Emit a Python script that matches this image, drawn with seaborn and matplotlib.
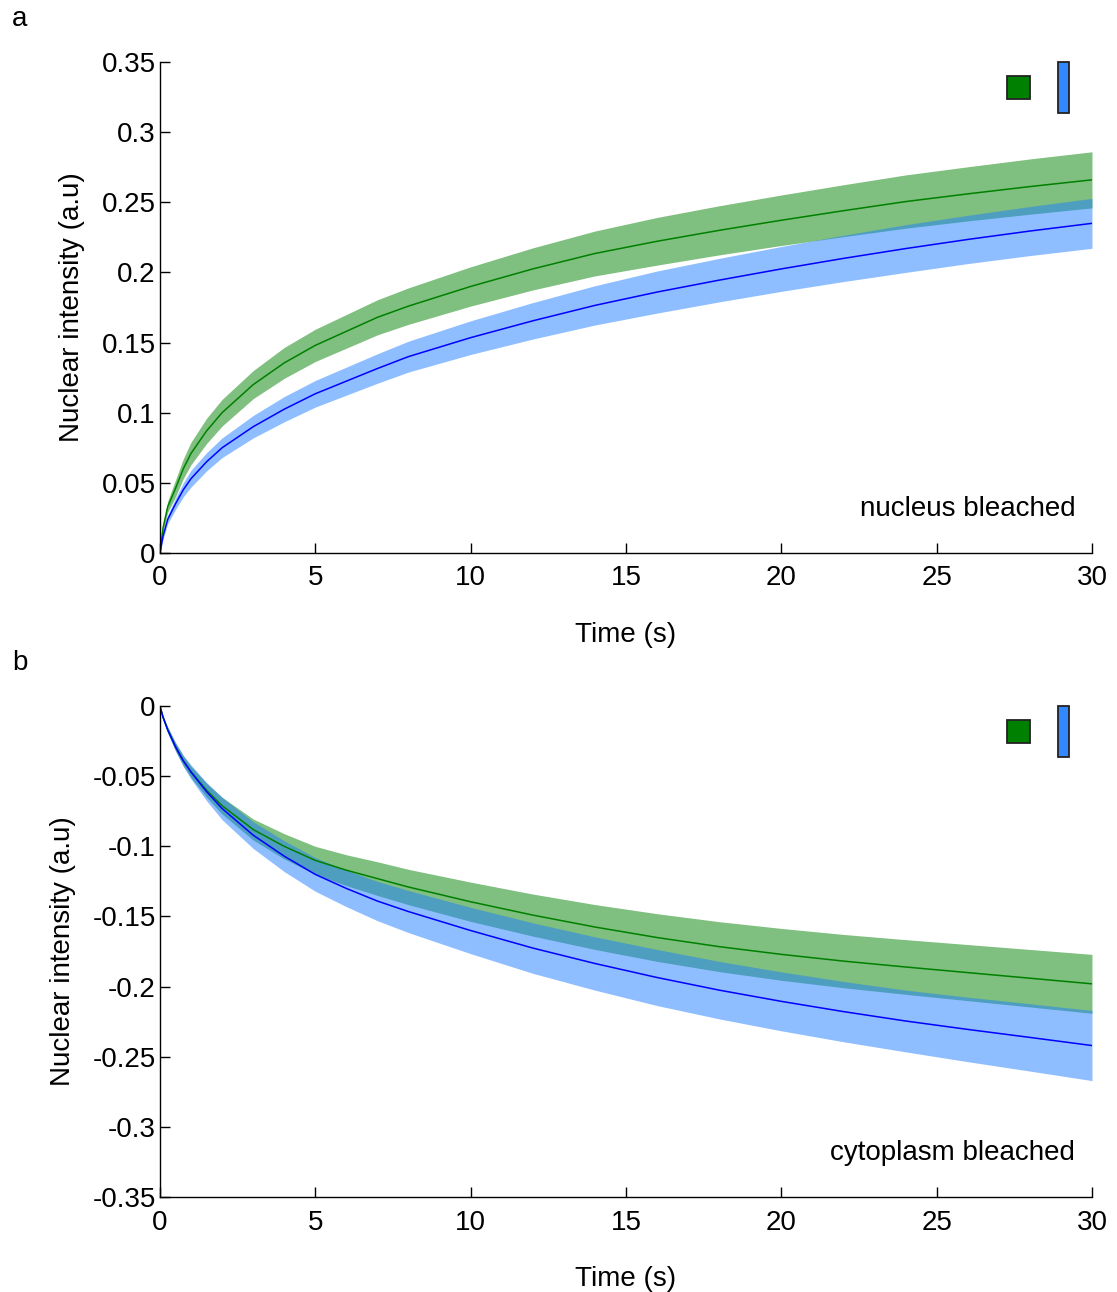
import numpy as np
import pandas as pd
import matplotlib
matplotlib.use("Agg")
import matplotlib.pyplot as plt
import seaborn as sns
from matplotlib.patches import Rectangle
from matplotlib.ticker import FuncFormatter

# tempo (s) comum a todas as curvas
time_s = [0, 0.1, 0.25, 0.5, 0.75, 1, 1.5, 2, 3, 4, 5, 6, 7, 8,
          10, 12, 14, 16, 18, 20, 22, 24, 26, 28, 30]

# painel a - nucleo fotobranqueado
nuc_green_mean = [0, 0.018, 0.033, 0.046, 0.060, 0.071, 0.087, 0.100, 0.120, 0.1355, 0.148, 0.158, 0.168, 0.176,
                  0.190, 0.2025, 0.2135, 0.2222, 0.2300, 0.2372, 0.2440, 0.2505, 0.2560, 0.2612, 0.266]
nuc_green_sd = [0, 0.0025, 0.004, 0.006, 0.007, 0.008, 0.009, 0.0095, 0.010, 0.011, 0.0115, 0.012, 0.0125, 0.013,
                0.014, 0.015, 0.016, 0.017, 0.0175, 0.018, 0.0185, 0.019, 0.0193, 0.0197, 0.020]
nuc_blue_mean = [0, 0.012, 0.024, 0.035, 0.045, 0.053, 0.065, 0.075, 0.090, 0.1025, 0.1135, 0.1225, 0.1315, 0.140,
                 0.1535, 0.1655, 0.1765, 0.186, 0.1945, 0.2025, 0.2100, 0.2170, 0.2235, 0.2295, 0.235]
nuc_blue_sd = [0, 0.002, 0.003, 0.004, 0.005, 0.006, 0.0065, 0.007, 0.008, 0.009, 0.0095, 0.010, 0.0105, 0.011,
               0.012, 0.013, 0.014, 0.015, 0.0155, 0.016, 0.0165, 0.017, 0.0172, 0.0175, 0.0178]

# painel b - citoplasma fotobranqueado
cyt_green_mean = [0, -0.008, -0.017, -0.029, -0.039, -0.047, -0.060, -0.071, -0.088, -0.100, -0.110, -0.117, -0.123,
                  -0.129, -0.1395, -0.149, -0.1575, -0.165, -0.1715, -0.177, -0.1818, -0.186, -0.190, -0.194, -0.198]
cyt_green_sd = [0, 0.001, 0.002, 0.003, 0.0035, 0.004, 0.005, 0.006, 0.0075, 0.009, 0.010, 0.011, 0.012, 0.0126,
                0.014, 0.015, 0.016, 0.017, 0.0178, 0.0185, 0.019, 0.0195, 0.020, 0.0205, 0.021]
cyt_blue_mean = [0, -0.008, -0.017, -0.029, -0.039, -0.047, -0.061, -0.073, -0.092, -0.107, -0.120, -0.130, -0.139,
                 -0.1465, -0.160, -0.1725, -0.1835, -0.1935, -0.2025, -0.2105, -0.2178, -0.2245, -0.2305, -0.2362, -0.242]
cyt_blue_sd = [0, 0.001, 0.002, 0.003, 0.004, 0.005, 0.0065, 0.008, 0.0095, 0.011, 0.012, 0.013, 0.014, 0.015,
               0.0165, 0.018, 0.019, 0.020, 0.0205, 0.021, 0.0215, 0.022, 0.023, 0.024, 0.025]

x_ticks = [0, 5, 10, 15, 20, 25, 30]
y_ticks_a = [0, 0.05, 0.1, 0.15, 0.2, 0.25, 0.3, 0.35]
y_ticks_b = [-0.35, -0.3, -0.25, -0.2, -0.15, -0.1, -0.05, 0]

sns.set_style("ticks")
plt.rcParams['font.family'] = ['Liberation Sans', 'DejaVu Sans']
plt.rcParams['font.size'] = 20
# tudo em preto, como no original
for k in ['text.color', 'axes.labelcolor', 'xtick.color', 'ytick.color', 'axes.edgecolor']:
    plt.rcParams[k] = 'black'

GREEN = '#008000'
BLUE_BAND = '#1f7fff'
BLUE_LINE = '#0000ff'

fig = plt.figure(figsize=(11.17, 12.92), dpi=100)
ax_a = fig.add_axes([0.1432, 0.572, 0.8344, 0.380])
ax_b = fig.add_axes([0.1432, 0.0735, 0.8344, 0.380])

paineis = [
    (ax_a, nuc_green_mean, nuc_green_sd, nuc_blue_mean, nuc_blue_sd, y_ticks_a, 'nucleus bleached'),
    (ax_b, cyt_green_mean, cyt_green_sd, cyt_blue_mean, cyt_blue_sd, y_ticks_b, 'cytoplasm bleached'),
]

for ax, gm, gs, bm, bs, yt, texto in paineis:
    df = pd.DataFrame({'t': time_s, 'gm': gm, 'gs': gs, 'bm': bm, 'bs': bs})
    ax.fill_between(df['t'], df['gm'] - df['gs'], df['gm'] + df['gs'], color=GREEN, alpha=0.5, lw=0)
    ax.fill_between(df['t'], df['bm'] - df['bs'], df['bm'] + df['bs'], color=BLUE_BAND, alpha=0.5, lw=0)
    sns.lineplot(data=df, x='t', y='gm', color=GREEN, lw=1.1, ax=ax)
    sns.lineplot(data=df, x='t', y='bm', color=BLUE_LINE, lw=1.1, ax=ax)

    ax.set_xlim(0, 30)
    ax.set_ylim(min(yt), max(yt))
    ax.set_xticks(x_ticks)
    ax.set_yticks(yt)
    ax.yaxis.set_major_formatter(FuncFormatter(lambda v, p: f'{v:g}'))
    ax.tick_params(direction='in', length=7, width=1.0, labelsize=20)
    ax.tick_params(axis='x', pad=9)
    ax.tick_params(axis='y', pad=3)
    sns.despine(ax=ax)
    for s in ['left', 'bottom']:
        ax.spines[s].set_linewidth(1.0)
    ax.set_xlabel('Time (s)', fontsize=20, labelpad=22)
    ax.set_ylabel('Nuclear intensity (a.u)', fontsize=20, labelpad=12)

    ax.text(0.982, 0.0896, texto, transform=ax.transAxes, ha='right', va='center', fontsize=20)

    # marcadores tipo legenda no canto
    ax.add_patch(Rectangle((0.9085, 0.9246), 0.025, 0.0475, transform=ax.transAxes,
                           facecolor=GREEN, edgecolor='#222222', lw=1.3, clip_on=False))
    ax.add_patch(Rectangle((0.9635, 0.8955), 0.0115, 0.105, transform=ax.transAxes,
                           facecolor='#3388ff', edgecolor='#222222', lw=1.3, clip_on=False))

fig.text(12 / 1117, 1 - 6 / 1292, 'a', ha='left', va='top', fontsize=20)
fig.text(12 / 1117, 1 - 650 / 1292, 'b', ha='left', va='top', fontsize=20)

fig.savefig('out.png', dpi=100)
